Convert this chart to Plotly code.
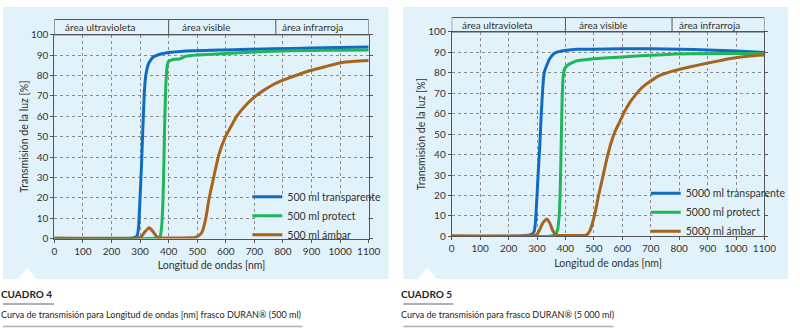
import plotly.graph_objects as go

# ---------------- data ----------------
# Cuadro 4 (500 ml)
wl_t4 = [0, 250, 280, 290, 295, 300, 305, 310, 315, 320, 330, 345, 370, 400, 450, 600, 766, 900, 1000, 1100]
tr_t4 = [0, 0, 0.5, 1.5, 6, 20, 36, 55, 72, 80, 86, 89, 90.5, 91.3, 92, 92.6, 93.2, 93.5, 93.8, 94]
wl_p4 = [0, 340, 360, 370, 375, 380, 383, 386, 390, 395, 400, 420, 439, 460, 500, 600, 766, 900, 1000, 1100]
tr_p4 = [0, 0, 0.3, 1, 5, 18, 35, 55, 75, 85, 87, 88, 88.2, 89.5, 90.1, 90.9, 92, 92.3, 92.5, 92.6]
wl_a4 = [0, 290, 305, 315, 332, 345, 358, 368, 480, 490, 500, 510, 518, 530, 541, 558, 576, 599, 620, 639, 670, 702, 735, 770, 805, 850, 896, 950, 999, 1050, 1100]
tr_a4 = [0.3, 0.3, 1, 3, 5.3, 3.5, 1, 0.4, 0.4, 0.5, 1, 2, 3.6, 10, 19.3, 30.3, 41.4, 50, 55.5, 60.2, 65.5, 69.7, 73, 75.9, 78, 80.3, 82.5, 84.5, 86.2, 87, 87.4]

# Cuadro 5 (5000 ml)
wl_t5 = [0, 250, 280, 290, 295, 300, 305, 310, 315, 320, 325, 335, 345, 360, 380, 440, 500, 600, 700, 800, 900, 1000, 1100]
tr_t5 = [0, 0.2, 1, 2.5, 8, 20, 33, 45, 60, 72, 80, 84, 87, 89.5, 90.5, 91.5, 91.6, 91.8, 91.8, 91.6, 91.2, 90.7, 90]
wl_p5 = [0, 340, 355, 365, 372, 378, 382, 385, 388, 392, 397, 410, 440, 500, 600, 700, 786, 900, 1000, 1100]
tr_p5 = [0, 0, 0.3, 1, 3, 10, 25, 45, 65, 78, 82, 84, 85.9, 86.9, 87.8, 88.6, 89.2, 89.4, 89.5, 89.5]
wl_a5 = [0, 290, 300, 310, 320, 334, 345, 355, 365, 375, 465, 475, 485, 493, 505, 516, 528, 539, 550, 562, 575, 590, 607, 625, 648, 671, 700, 728, 757, 786, 840, 901, 950, 1004, 1050, 1100]
tr_a5 = [0.3, 0.4, 1, 3.5, 6.5, 8.5, 6.5, 3, 1, 0.5, 0.5, 0.8, 2.5, 5.6, 12, 19.7, 27, 33.9, 40.5, 46.4, 51.5, 55.8, 60.8, 65.2, 69.5, 73, 76, 78.5, 80, 81.2, 83, 84.8, 86.2, 87.5, 88.2, 88.7]

names4 = ["500 ml transparente", "500 ml protect", "500 ml ámbar"]
names5 = ["5000 ml transparente", "5000 ml protect", "5000 ml ámbar"]
colors = ["#0f6cc2", "#1fb55a", "#a5651f"]

x_ticks = [0, 100, 200, 300, 400, 500, 600, 700, 800, 900, 1000, 1100]
y_ticks = [0, 10, 20, 30, 40, 50, 60, 70, 80, 90, 100]
regions = ["área ultravioleta", "área visible", "área infrarroja"]
region_bounds = [400, 775]
region_centers = [160, 533, 905]

captions = [("CUADRO 4", "Curva de transmisión para Longitud de ondas [nm] frasco DURAN® (500 ml)"),
            ("CUADRO 5", "Curva de transmisión para frasco DURAN® (5 000 ml)")]

# ---------------- layout helpers ----------------
W, H = 800, 334
def px(x):
    return x / W
def py(y):
    return 1 - y / H

FONT = "Lato, sans-serif"
TXT = "#333333"
BG = "#e1f2fa"

fig = go.Figure()

series = [
    (wl_t4, tr_t4, wl_p4, tr_p4, wl_a4, tr_a4, names4, "x", "y", "legend"),
    (wl_t5, tr_t5, wl_p5, tr_p5, wl_a5, tr_a5, names5, "x2", "y2", "legend2"),
]
for (xt, yt, xp, yp, xa, ya, nm, xa_ref, ya_ref, lg) in series:
    for (xx, yy), name, c in zip([(xt, yt), (xp, yp), (xa, ya)], nm, colors):
        fig.add_trace(go.Scatter(x=xx, y=yy, mode="lines", name=name,
                                 line=dict(color=c, width=3, shape="spline", smoothing=0.4),
                                 xaxis=xa_ref, yaxis=ya_ref, legend=lg))

panels = [
    dict(bgx=(0, 393), xd=(52.3, 372.7), yd=(241, 29), htop=13, tri=(15, 25, 35), capx=0, line1=52, line2=305,
         xr="x", yr="y", idx=1, leg=(713, 0.5, 20.8)),
    dict(bgx=(408, 800), xd=(457.3, 776), yd=(238.7, 26), htop=11, tri=(422, 432, 443), capx=408, line1=459, line2=622,
         xr="x2", yr="y2", idx=2, leg=(707, 0.8, 21)),
]

shapes = []
annotations = []
axis_common = dict(showline=True, linecolor="#555555", linewidth=1, ticks="outside", ticklen=3,
                   tickcolor="#555555", tickfont=dict(family=FONT, size=10, color=TXT),
                   showgrid=True, gridcolor="#8a8a8a", griddash="dot", gridwidth=1, zeroline=False)

for i, p in enumerate(panels):
    sfx = "" if p["idx"] == 1 else "2"
    shapes.append(dict(type="rect", xref="paper", yref="paper", x0=px(p["bgx"][0]), x1=px(p["bgx"][1]),
                       y0=py(283), y1=py(0), fillcolor=BG, line=dict(width=0), layer="below"))
    a, b, c = p["tri"]
    shapes.append(dict(type="path", xref="paper", yref="paper",
                       path=f"M {px(a)},{py(283.5)} L {px(b)},{py(271)} L {px(c)},{py(283.5)} Z",
                       fillcolor="white", line=dict(width=0), layer="below"))
    # legend backdrop hiding the grid (between grid and traces)
    lx, ly0, ly1 = p["leg"]
    shapes.append(dict(type="rect", xref=p["xr"], yref=p["yr"], x0=lx, x1=1098,
                       y0=ly0, y1=ly1, fillcolor=BG, line=dict(width=0), layer="between"))
    shapes.append(dict(type="rect", xref=p["xr"], yref="paper", x0=0, x1=1100,
                       y0=py(p["yd"][1]), y1=py(p["htop"]), fillcolor="rgba(0,0,0,0)",
                       line=dict(color="#555555", width=1)))
    for rb in region_bounds:
        shapes.append(dict(type="line", xref=p["xr"], yref="paper", x0=rb, x1=rb,
                           y0=py(p["yd"][1]), y1=py(p["htop"]), line=dict(color="#555555", width=1)))
    for txt, cx in zip(regions, region_centers):
        annotations.append(dict(text=txt, xref=p["xr"], yref="paper", x=cx,
                                y=py((p["yd"][1] + p["htop"]) / 2), showarrow=False,
                                xanchor="center", yanchor="middle",
                                font=dict(family=FONT, size=10, color=TXT)))
    cap, sub = captions[i]
    annotations.append(dict(text=f"<b>{cap}</b>", xref="paper", yref="paper", x=px(p["capx"] - 3), y=py(299),
                            showarrow=False, xanchor="left", yanchor="middle", borderpad=0,
                            font=dict(family=FONT, size=10, color="#222222")))
    annotations.append(dict(text=sub, xref="paper", yref="paper", x=px(p["capx"] - 3), y=py(320),
                            showarrow=False, xanchor="left", yanchor="middle", borderpad=0,
                            font=dict(family=FONT, size=9, color="#222222")))
    shapes.append(dict(type="line", xref="paper", yref="paper", x0=px(p["capx"]), x1=px(p["line1"]),
                       y0=py(309), y1=py(309), line=dict(color="#b0b0b0", width=2)))
    shapes.append(dict(type="line", xref="paper", yref="paper", x0=px(p["capx"]), x1=px(p["line2"]),
                       y0=py(332.5), y1=py(332.5), line=dict(color="#b0b0b0", width=1.5)))

    fig.layout["xaxis" + sfx] = dict(axis_common, domain=[px(p["xd"][0]), px(p["xd"][1])], range=[0, 1100],
                                     tickvals=x_ticks, mirror=True, anchor="y" + sfx,
                                     title=dict(text="Longitud de ondas [nm]", standoff=6,
                                                font=dict(family=FONT, size=10.5, color=TXT)))
    fig.layout["yaxis" + sfx] = dict(axis_common, domain=[py(p["yd"][0]), py(p["yd"][1])], range=[0, 100],
                                     tickvals=y_ticks, mirror="ticks", anchor="x" + sfx,
                                     title=dict(text="Transmisión de la luz [%]", standoff=0,
                                                font=dict(family=FONT, size=10.5, color=TXT)))

fig.update_layout(
    width=W, height=H, margin=dict(l=0, r=0, t=0, b=0),
    paper_bgcolor="white", plot_bgcolor="rgba(0,0,0,0)",
    shapes=shapes, annotations=annotations,
    legend=dict(x=px(249), y=py(252), xanchor="left", yanchor="bottom", bgcolor="rgba(0,0,0,0)",
                font=dict(family=FONT, size=10.5, color=TXT), itemwidth=30, tracegroupgap=0),
    legend2=dict(x=px(655), y=py(248.5), xanchor="left", yanchor="bottom", bgcolor="rgba(0,0,0,0)",
                 font=dict(family=FONT, size=10.5, color=TXT), itemwidth=30, tracegroupgap=0),
    showlegend=True,
)

fig.write_html("out.html")
